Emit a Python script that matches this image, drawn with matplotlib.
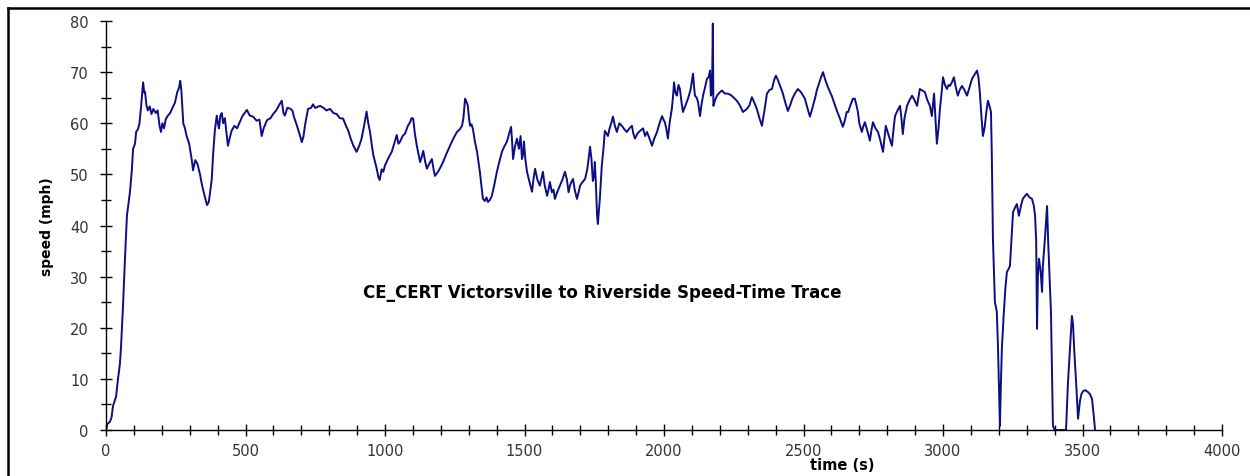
import matplotlib
matplotlib.use("Agg")
import matplotlib.pyplot as plt
from matplotlib.lines import Line2D
from matplotlib.ticker import MultipleLocator

# speed-time trace
time_s = [
    0, 5, 14, 20, 25, 36, 43, 50, 54, 61, 68, 75, 80, 86, 93, 97, 104, 108, 115, 120,
    125, 133, 137, 140, 145, 150, 157, 163, 170, 178, 185, 192, 197, 202, 208, 214, 222, 230, 238, 247,
    255, 262, 266, 270, 277, 283, 289, 298, 307, 312, 320, 328, 337, 342, 348, 355, 362, 368, 372, 379,
    384, 390, 397, 401, 405, 410, 415, 420, 426, 432, 437, 443, 450, 460, 470, 480, 490, 505, 515, 527,
    540, 550, 558, 565, 577, 590, 599, 610, 620, 630, 636, 641, 650, 659, 668, 675, 684, 693, 702, 708,
    713, 724, 735, 742, 750, 767, 780, 790, 803, 815, 827, 838, 850, 860, 868, 877, 886, 898, 907, 916,
    925, 934, 940, 946, 952, 958, 964, 970, 976, 981, 988, 994, 1000, 1006, 1015, 1024, 1033, 1042, 1048, 1054,
    1063, 1072, 1082, 1090, 1095, 1101, 1107, 1114, 1120, 1126, 1132, 1137, 1144, 1150, 1158, 1168, 1174, 1179, 1190, 1200,
    1208, 1220, 1233, 1245, 1258, 1268, 1276, 1281, 1287, 1292, 1297, 1301, 1305, 1310, 1315, 1322, 1330, 1335, 1340, 1346,
    1351, 1358, 1364, 1369, 1376, 1383, 1392, 1401, 1410, 1419, 1428, 1437, 1445, 1452, 1456, 1459, 1466, 1473, 1480, 1486,
    1491, 1495, 1498, 1503, 1509, 1518, 1527, 1532, 1538, 1546, 1555, 1560, 1566, 1572, 1581, 1586, 1591, 1598, 1604, 1609,
    1617, 1627, 1636, 1645, 1652, 1658, 1663, 1668, 1674, 1680, 1688, 1694, 1699, 1708, 1717, 1725, 1735, 1740, 1745, 1750,
    1752, 1756, 1760, 1763, 1767, 1770, 1774, 1777, 1783, 1788, 1794, 1799, 1805, 1811, 1817, 1824, 1831, 1840, 1849, 1858,
    1867, 1876, 1885, 1890, 1896, 1905, 1914, 1925, 1932, 1939, 1948, 1957, 1965, 1975, 1984, 1993, 2000, 2003, 2008, 2014,
    2020, 2028, 2032, 2036, 2041, 2046, 2052, 2057, 2063, 2068, 2077, 2086, 2095, 2104, 2108, 2111, 2117, 2122, 2126, 2129,
    2134, 2140, 2147, 2154, 2160, 2165, 2168, 2172, 2175, 2177, 2183, 2190, 2199, 2208, 2218, 2229, 2240, 2250, 2261, 2272,
    2283, 2290, 2297, 2306, 2315, 2324, 2333, 2342, 2351, 2360, 2369, 2378, 2387, 2395, 2401, 2408, 2416, 2425, 2435, 2444,
    2452, 2460, 2469, 2480, 2492, 2505, 2514, 2523, 2532, 2541, 2548, 2555, 2563, 2570, 2578, 2588, 2595, 2601, 2610, 2620,
    2630, 2641, 2648, 2655, 2660, 2668, 2677, 2684, 2690, 2695, 2700, 2709, 2715, 2720, 2729, 2738, 2743, 2749, 2758, 2767,
    2776, 2785, 2790, 2795, 2806, 2817, 2822, 2828, 2837, 2846, 2851, 2856, 2862, 2871, 2880, 2889, 2898, 2907, 2912, 2917,
    2926, 2935, 2944, 2953, 2960, 2964, 2968, 2973, 2978, 2984, 2989, 2995, 3000, 3007, 3014, 3020, 3025, 3032, 3039, 3046,
    3053, 3060, 3068, 3077, 3086, 3095, 3104, 3113, 3122, 3127, 3132, 3137, 3143, 3147, 3150, 3156, 3161, 3166, 3172, 3175,
    3179, 3186, 3190, 3193, 3197, 3204, 3207, 3211, 3218, 3224, 3229, 3235, 3240, 3246, 3251, 3258, 3265, 3272, 3280, 3286,
    3294, 3301, 3310, 3319, 3325, 3330, 3334, 3337, 3340, 3344, 3350, 3355, 3358, 3366, 3373, 3377, 3382, 3387, 3391, 3394,
    3400, 3441, 3448, 3455, 3462, 3466, 3471, 3477, 3484, 3491, 3496, 3502, 3510, 3520, 3527, 3534, 3540, 3545,
]
speed_mph = [
    0, 1.2, 1.6, 2.5, 4.7, 6.5, 10, 13, 16.4, 24.3, 33.5, 41.9, 44, 46.6, 51.1, 55, 56, 58.3, 58.9, 60,
    62.8, 68, 66, 66.1, 63.5, 62.5, 63.3, 61.8, 62.8, 62, 62.5, 59.5, 58.3, 60, 59, 60.8, 61.5, 62, 63, 64,
    66, 67, 68.3, 66.5, 60, 59, 57.5, 56, 53, 50.8, 52.8, 52, 50, 48.5, 47, 45.5, 44, 44.5, 46, 49,
    54, 58.5, 61.5, 60, 59, 61.5, 62, 60, 61, 58, 55.6, 57, 58.5, 59.5, 59, 60.3, 61.5, 62.6, 61.5, 61.3,
    60.5, 60.7, 57.5, 59, 60.6, 61, 61.8, 62.5, 63.5, 64.4, 62, 61.5, 63, 62.9, 62.5, 61, 59.6, 58, 56.3, 57.5,
    59.5, 62.8, 63, 63.7, 63, 63.4, 63, 62.5, 62.8, 62, 61.8, 61, 60.9, 59.5, 58.6, 57, 55.7, 54.4, 55.5, 57,
    59.5, 62.3, 60, 58.4, 56, 53.8, 52.5, 51.2, 49.5, 48.9, 51, 50.5, 51.8, 52.5, 53.5, 54.4, 56, 57.7, 56, 56.4,
    57.5, 58, 59.5, 60.2, 61, 60.9, 58, 55.6, 54, 52.4, 53.5, 54.6, 52.5, 51.1, 52, 53, 51, 49.7, 50.5, 51.5,
    52.4, 54, 55.6, 57, 58.3, 58.8, 59.5, 61, 64.8, 64.2, 63.4, 61, 59.5, 59.8, 58.9, 56.5, 54.4, 52.5, 50.5, 47.5,
    45.2, 44.8, 45.5, 44.6, 45, 45.8, 48, 50.5, 52.5, 54.4, 55.5, 56.4, 58, 59.3, 56, 53, 55.5, 57, 55, 57.5,
    53, 54, 56.4, 53, 50.5, 48.5, 46.6, 49, 51.1, 49, 47.8, 49, 50.5, 48, 45.8, 47, 48.5, 46.5, 47, 45.2,
    46.5, 47.8, 49, 50.5, 49, 46.5, 47.8, 48.5, 49.1, 47, 45.2, 46.5, 47.8, 48.5, 49.1, 51, 55.4, 53, 48.7, 50,
    52.4, 48, 42, 40.3, 43, 45.2, 49, 51.7, 55, 58.5, 58, 57.5, 59, 60, 61.3, 59.5, 58.3, 60, 59.5, 58.8,
    58.3, 59, 59.5, 58, 57, 58, 58.5, 59, 57.5, 58.3, 57, 55.6, 57, 58.3, 60, 61.4, 60.5, 60.2, 59, 57,
    60, 62.8, 65, 68, 66, 65.4, 67.5, 66.7, 64, 62.2, 63.5, 64.8, 66.5, 69.7, 67, 65.4, 65, 64.2, 62.5, 61.4,
    63.5, 65.4, 67, 68.7, 69, 70.3, 65.4, 66, 79.5, 63.4, 64.5, 65.4, 66, 66.4, 65.8, 65.8, 65.5, 65, 64.4, 63.5,
    62.2, 62.5, 62.8, 63.5, 65.1, 64, 62.8, 61, 59.5, 62.5, 65.8, 66.5, 66.7, 68.5, 69.3, 68.5, 67.3, 66, 64, 62.4,
    63.5, 64.8, 65.8, 66.7, 66, 64.8, 63, 61.3, 63, 64.8, 66.5, 67.7, 69, 70, 68.5, 67, 66.1, 65.4, 64, 62.4,
    61, 59.3, 60.5, 62.2, 62.2, 63.5, 64.8, 64.8, 63.5, 62.2, 60, 58.3, 59.5, 60.2, 58.5, 56.6, 58.5, 60.2, 59, 58.3,
    56.5, 54.4, 57, 59.5, 57.5, 55.6, 58.5, 61.4, 62.5, 63.4, 61, 57.9, 61, 63.4, 64.5, 65.4, 64.5, 63.4, 65, 66.7,
    66.4, 66.1, 64.5, 63.4, 61.4, 63.5, 65.8, 61, 56, 59, 62.8, 66, 69, 67.5, 66.7, 67.5, 67.3, 68, 69, 67,
    65.4, 66.5, 67.3, 66.5, 65.4, 67, 68.7, 69.5, 70.3, 69, 66.1, 62, 57.5, 58.5, 59.5, 62.5, 64.4, 63.5, 62.2, 53.6,
    37.4, 25, 24, 23, 16.4, 0.8, 8, 15.9, 23, 28, 30.9, 31.5, 32.1, 38, 42.6, 43.5, 44.2, 41.9, 44, 45.2,
    45.8, 46.2, 45.5, 45.2, 44, 41.9, 37, 19.8, 30, 33.5, 31, 27, 32.1, 38, 43.8, 36.8, 30, 23, 10, 0.8,
    0, 0, 9.4, 16, 22.3, 20.7, 15, 9.4, 2.2, 5.7, 7, 7.6, 7.8, 7.4, 7, 6.1, 3, 0,
]
y_ticks = list(range(0, 81, 10))
x_ticks = list(range(0, 4001, 500))
title_text = "CE_CERT Victorsville to Riverside Speed-Time Trace"

fig = plt.figure(figsize=(12.5, 4.77), dpi=100)
ax = fig.add_axes([0.0848, 0.0964, 0.8928, 0.8575])

ax.plot(time_s, speed_mph, color="#0d0d85", linewidth=1.4)

ax.set_xlim(0, 4000)
ax.set_ylim(0, 80)
ax.set_xticks(x_ticks)
ax.set_yticks(y_ticks)
ax.xaxis.set_minor_locator(MultipleLocator(100))
ax.yaxis.set_minor_locator(MultipleLocator(5))
ax.tick_params(which="major", direction="inout", length=9, width=1, colors="black",
               labelcolor="#333333", labelsize=10.5)
ax.tick_params(which="minor", direction="inout", length=7, width=1, colors="black")
ax.tick_params(axis="y", which="major", pad=8)
ax.tick_params(axis="x", which="major", pad=5)

ax.spines["top"].set_visible(False)
ax.spines["right"].set_visible(False)
ax.spines["left"].set_linewidth(1)
ax.spines["bottom"].set_linewidth(1)

ax.set_ylabel("speed (mph)", fontsize=10, fontweight="bold")
ax.yaxis.set_label_coords(-0.047, 0.5)
ax.set_xlabel("time (s)", fontsize=10.5, fontweight="bold")
ax.xaxis.set_label_coords(0.66, -0.066)

ax.text(1780, 27, title_text, ha="center", va="center", fontsize=12, fontweight="bold")

# black border on the left and top of the picture
fig.add_artist(Line2D([0.0064, 0.0064], [0, 0.981], color="black", linewidth=1.8))
fig.add_artist(Line2D([0.0064, 1.0], [0.981, 0.981], color="black", linewidth=1.8))

fig.savefig("out.png", dpi=100)
